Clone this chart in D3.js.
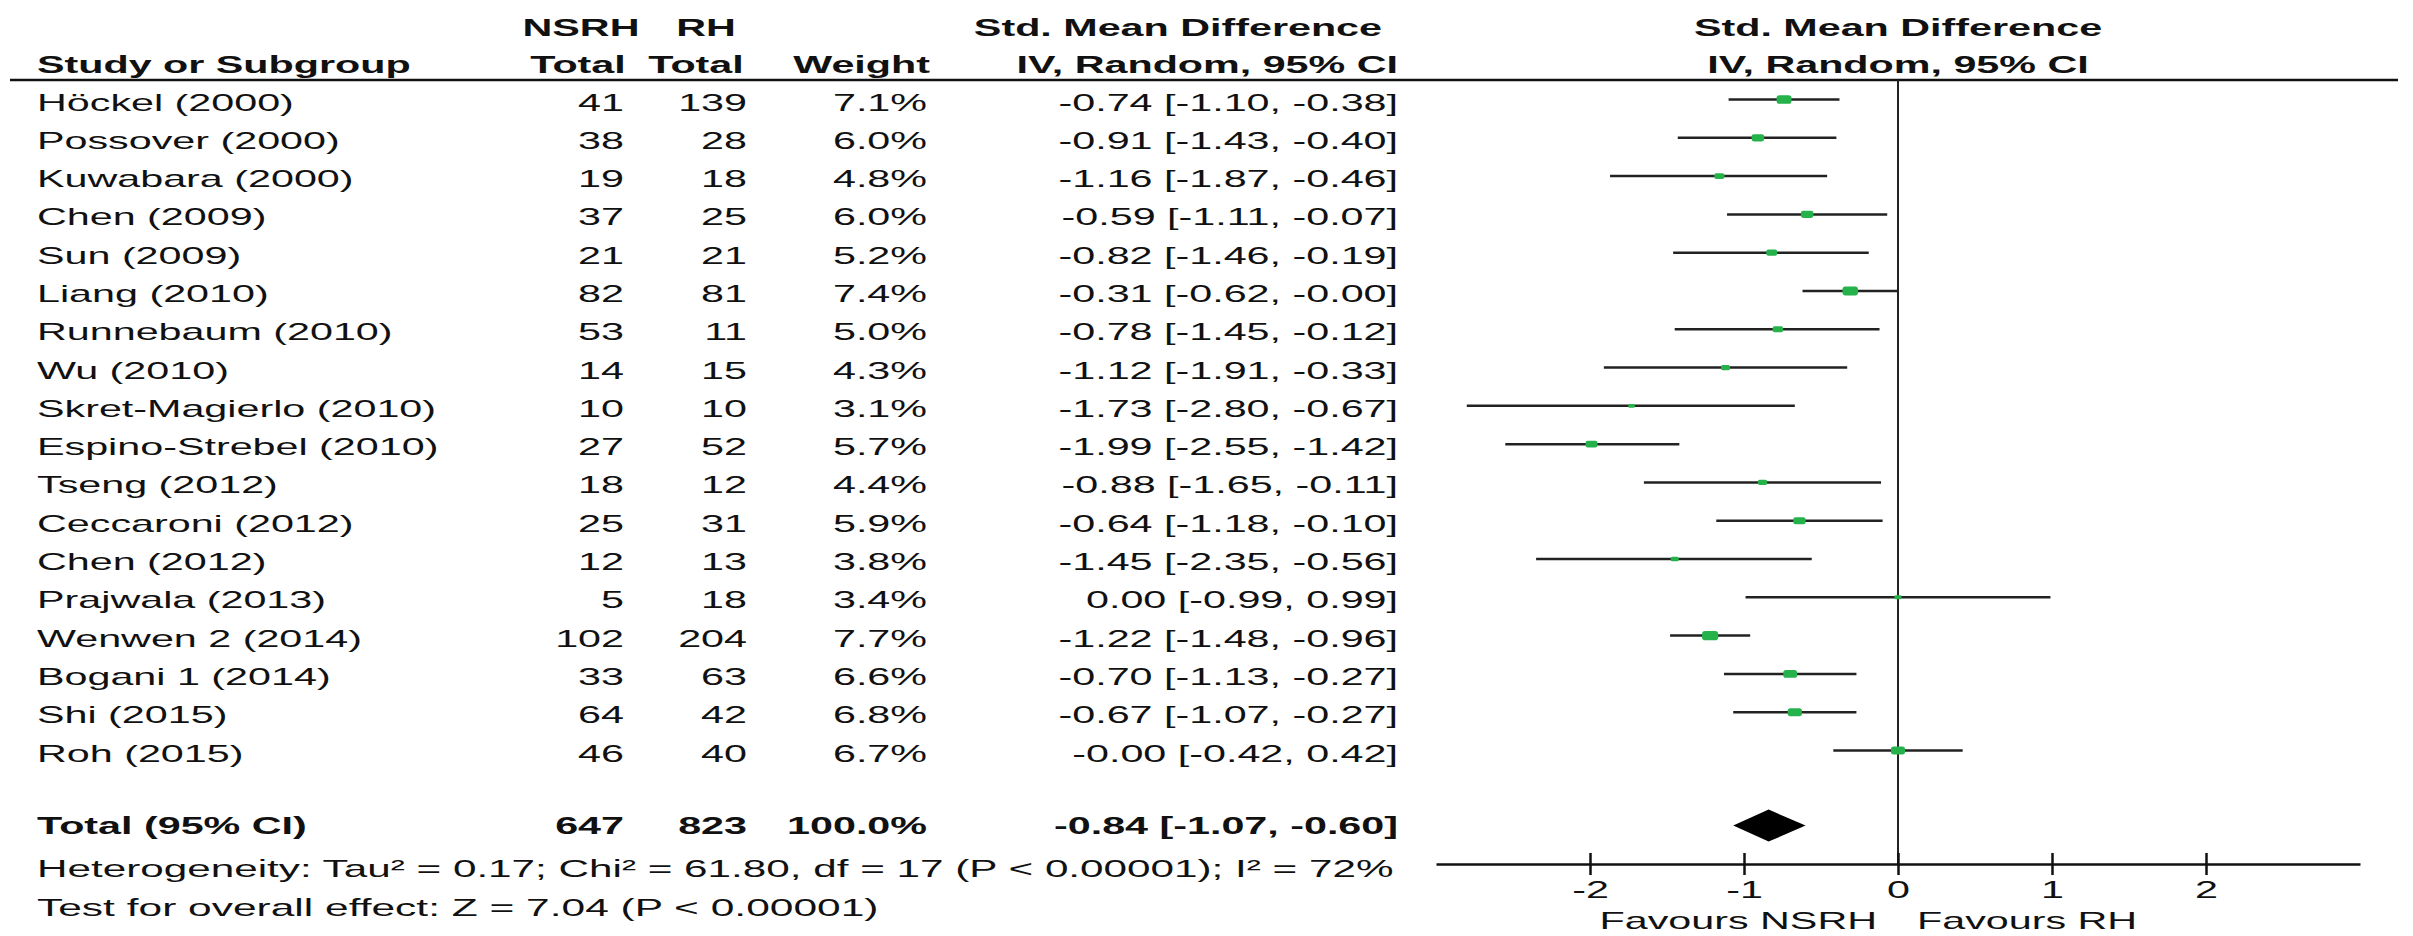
<!DOCTYPE html>
<html>
<head>
<meta charset="utf-8">
<script src="https://cdn.jsdelivr.net/npm/d3@7"></script>
<style>
  body { margin: 0; background: #fff; }
  svg { display: block; }
  text { font-family: "Liberation Sans", Arial, sans-serif; fill: #111; }
</style>
</head>
<body>
<svg id="chart"></svg>
<script>
// study rows
const studies = ["Höckel (2000)", "Possover (2000)", "Kuwabara (2000)", "Chen (2009)", "Sun (2009)",
  "Liang (2010)", "Runnebaum (2010)", "Wu (2010)", "Skret-Magierlo (2010)", "Espino-Strebel (2010)",
  "Tseng (2012)", "Ceccaroni (2012)", "Chen (2012)", "Prajwala (2013)", "Wenwen 2 (2014)",
  "Bogani 1 (2014)", "Shi (2015)", "Roh (2015)"];
const nsrhTotal = [41, 38, 19, 37, 21, 82, 53, 14, 10, 27, 18, 25, 12, 5, 102, 33, 64, 46];
const rhTotal = [139, 28, 18, 25, 21, 81, 11, 15, 10, 52, 12, 31, 13, 18, 204, 63, 42, 40];
const weights = [7.1, 6.0, 4.8, 6.0, 5.2, 7.4, 5.0, 4.3, 3.1, 5.7, 4.4, 5.9, 3.8, 3.4, 7.7, 6.6, 6.8, 6.7];
const smd = [-0.74, -0.91, -1.16, -0.59, -0.82, -0.31, -0.78, -1.12, -1.73, -1.99, -0.88, -0.64, -1.45, 0.00, -1.22, -0.70, -0.67, -0];
const ciLow = [-1.10, -1.43, -1.87, -1.11, -1.46, -0.62, -1.45, -1.91, -2.80, -2.55, -1.65, -1.18, -2.35, -0.99, -1.48, -1.13, -1.07, -0.42];
const ciHigh = [-0.38, -0.40, -0.46, -0.07, -0.19, -0, -0.12, -0.33, -0.67, -1.42, -0.11, -0.10, -0.56, 0.99, -0.96, -0.27, -0.27, 0.42];

// pooled result
const totalLabel = "Total (95% CI)";
const totalCounts = [647, 823];
const totalWeight = 100.0;
const totalEffect = [-0.84, -1.07, -0.60]; // estimate, low, high

const heterogeneityText = "Heterogeneity: Tau² = 0.17; Chi² = 61.80, df = 17 (P < 0.00001); I² = 72%";
const overallText = "Test for overall effect: Z = 7.04 (P < 0.00001)";
const xTicks = [-2, -1, 0, 1, 2];
const favours = ["Favours NSRH", "Favours RH"];

const W = 2413, H = 936;
const SX = 1.72;      // the source font is much wider than Arial
const FS = 24;

const svg = d3.select("#chart").attr("width", W).attr("height", H);

const x = d3.scaleLinear().domain([-3, 3]).range([1436, 2360]);
const y = d3.scaleLinear().domain([0, 17]).range([99.5, 750.5]);
const axisY = 864;
const totalY = y(19) - 1.5;

const fmt = v => ((v < 0 || Object.is(v, -0)) ? "-" : "") + Math.abs(v).toFixed(2);
const ciText = (e, lo, hi) => `${fmt(e)} [${fmt(lo)}, ${fmt(hi)}]`;

function txt(px, py, str, anchor, bold, sx) {
  svg.append("text")
    .attr("transform", `translate(${px},${py}) scale(${sx || SX},1)`)
    .attr("text-anchor", anchor || "start")
    .attr("font-size", FS)
    .attr("font-weight", bold ? "bold" : "normal")
    .text(str);
}

// headers
txt(581, 36, "NSRH", "middle", true);
txt(706, 36, "RH", "middle", true);
txt(1382, 36, "Std. Mean Difference", "end", true);
txt(x(0), 36, "Std. Mean Difference", "middle", true);
txt(37, 73, "Study or Subgroup", "start", true);
txt(578, 73, "Total", "middle", true);
txt(696, 73, "Total", "middle", true);
txt(930, 73, "Weight", "end", true);
txt(1398, 73, "IV, Random, 95% CI", "end", true);
txt(x(0), 73, "IV, Random, 95% CI", "middle", true);

svg.append("line")
  .attr("x1", 10).attr("x2", 2398)
  .attr("y1", 80).attr("y2", 80)
  .attr("stroke", "#111").attr("stroke-width", 2.5);

// table rows
studies.forEach((s, i) => {
  const ty = y(i) + 11;
  txt(37, ty, s, "start");
  txt(624, ty, nsrhTotal[i], "end");
  txt(747, ty, rhTotal[i], "end");
  txt(927, ty, weights[i].toFixed(1) + "%", "end");
  txt(1398, ty, ciText(smd[i], ciLow[i], ciHigh[i]), "end");
});

const tty = totalY + 8;
txt(37, tty, totalLabel, "start", true);
txt(624, tty, totalCounts[0], "end", true);
txt(747, tty, totalCounts[1], "end", true);
txt(927, tty, totalWeight.toFixed(1) + "%", "end", true);
txt(1398, tty, ciText(totalEffect[0], totalEffect[1], totalEffect[2]), "end", true);

txt(37, 877, heterogeneityText, "start", false, 1.76);
txt(37, 916, overallText, "start", false, 1.77);

// zero line
svg.append("line")
  .attr("x1", x(0)).attr("x2", x(0))
  .attr("y1", 80).attr("y2", axisY)
  .attr("stroke", "#222").attr("stroke-width", 2);

// confidence intervals
svg.selectAll(".ci")
  .data(studies)
  .enter().append("line")
  .attr("class", "ci")
  .attr("x1", (d, i) => x(ciLow[i]))
  .attr("x2", (d, i) => x(ciHigh[i]))
  .attr("y1", (d, i) => y(i))
  .attr("y2", (d, i) => y(i))
  .attr("stroke", "#222")
  .attr("stroke-width", 2.5);

// weight boxes
svg.selectAll(".box")
  .data(studies)
  .enter().append("rect")
  .attr("class", "box")
  .attr("x", (d, i) => x(smd[i]) - weights[i] * 1.05)
  .attr("y", (d, i) => y(i) - weights[i] * 0.6)
  .attr("width", (d, i) => weights[i] * 2.1)
  .attr("height", (d, i) => weights[i] * 1.2)
  .attr("rx", (d, i) => weights[i] * 0.4)
  .attr("fill", "#25b24a");

// pooled diamond
svg.append("path")
  .attr("d", `M${x(totalEffect[1])},${totalY} L${x(totalEffect[0])},${totalY - 16} L${x(totalEffect[2])},${totalY} L${x(totalEffect[0])},${totalY + 16} Z`)
  .attr("fill", "#000");

// x axis
const axis = svg.append("g")
  .attr("transform", `translate(0,${axisY})`)
  .call(d3.axisBottom(x).tickValues(xTicks).tickFormat(d => d < 0 ? "-" + Math.abs(d) : d).tickSizeOuter(0));

axis.select(".domain").attr("stroke", "#111").attr("stroke-width", 2.5);
axis.selectAll(".tick line").attr("y1", -11).attr("y2", 11).attr("stroke", "#111").attr("stroke-width", 2.5);
axis.selectAll(".tick text")
  .attr("y", 34).attr("dy", null)
  .attr("font-size", FS)
  .attr("font-family", "Liberation Sans, Arial, sans-serif")
  .attr("fill", "#111")
  .attr("transform", `scale(${SX},1)`);

txt(x(0) - 21, 929, favours[0], "end");
txt(x(0) + 19, 929, favours[1], "start");
</script>
</body>
</html>
